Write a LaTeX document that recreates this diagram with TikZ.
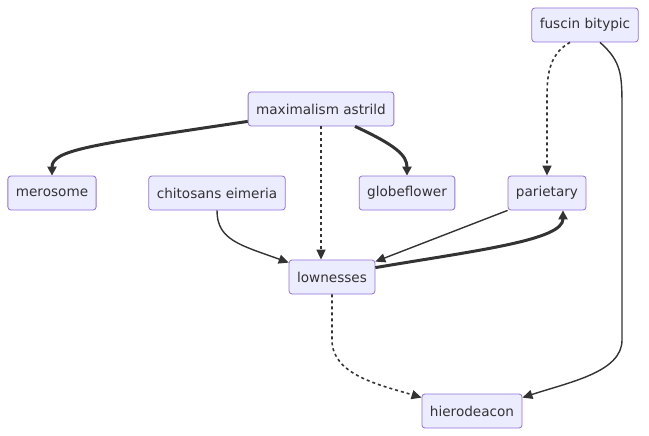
\documentclass[tikz,border=0pt]{standalone}
\usepackage{fontspec}
\setmainfont{DejaVu Sans}
\usetikzlibrary{arrows.meta}
\definecolor{boxfill}{HTML}{ECECFF}
\definecolor{boxline}{HTML}{9370DB}
\definecolor{edgeline}{HTML}{333333}

\begin{document}
\begin{tikzpicture}[x=1pt,y=-1pt,
    box/.style={draw=boxline,fill=boxfill,rounded corners=3pt,line width=0.8pt,
      minimum height=34pt,inner xsep=8pt,text=edgeline,font=\fontsize{13.6}{15}\selectfont},
    link/.style={draw=edgeline,line width=1.4pt,-{Triangle[length=10pt,width=9pt]}},
    thicklink/.style={draw=edgeline,line width=3pt,-{Triangle[length=9pt,width=9pt]}},
    dotlink/.style={draw=edgeline,line width=1.6pt,dash pattern=on 3pt off 3pt,-{Triangle[length=10pt,width=9pt]}}]
  \useasboundingbox (0,0) rectangle (649,436);
  %The boxes:
  \node[box] (fusc) at (585,25) {fuscin bitypic};
  \node[box] (maxa) at (321,109) {maximalism astrild};
  \node[box] (mero) at (52,193) {merosome};
  \node[box] (chit) at (217,193) {chitosans eimeria};
  \node[box] (glob) at (407,193) {globeflower};
  \node[box] (pari) at (547,193) {parietary};
  \node[box] (lown) at (332,277) {lownesses};
  \node[box] (hier) at (472,411) {hierodeacon};
  %Edges out of maximalism astrild:
  \draw[thicklink] ([yshift=5pt]maxa.south west) .. controls (90,145) and (52,150) .. (mero.north);
  \draw[dotlink] (maxa.south) -- (maxa.south |- lown.north);
  \draw[thicklink] ([xshift=34pt]maxa.south) .. controls (395,145) and (407,155) .. (glob.north);
  %Edges into lownesses and back to parietary:
  \draw[link] (chit.south) .. controls (217,240) and (240,245) .. ([yshift=-3pt]lown.north west);
  \draw[link] (pari.south west) -- ([yshift=-2pt]lown.north east);
  \draw[thicklink] ([yshift=-8pt]lown.north east) .. controls (480,250) and (563,240) .. ([xshift=16pt]pari.south);
  %Edges out of fuscin bitypic:
  \draw[dotlink] ([xshift=-15pt]fusc.south) .. controls (547,55) and (547,80) .. (547,100) -- (pari.north);
  \draw[link] ([xshift=15pt]fusc.south) .. controls (622,62) and (622,75) .. (622,110) -- (622,340)
    .. controls (622,372) and (570,382) .. ([yshift=-4pt]hier.north east);
  %Edge into hierodeacon:
  \draw[dotlink] (lown.south) -- (332,340) .. controls (332,375) and (380,385) .. ([yshift=-4pt]hier.north west);
\end{tikzpicture}
\end{document}
